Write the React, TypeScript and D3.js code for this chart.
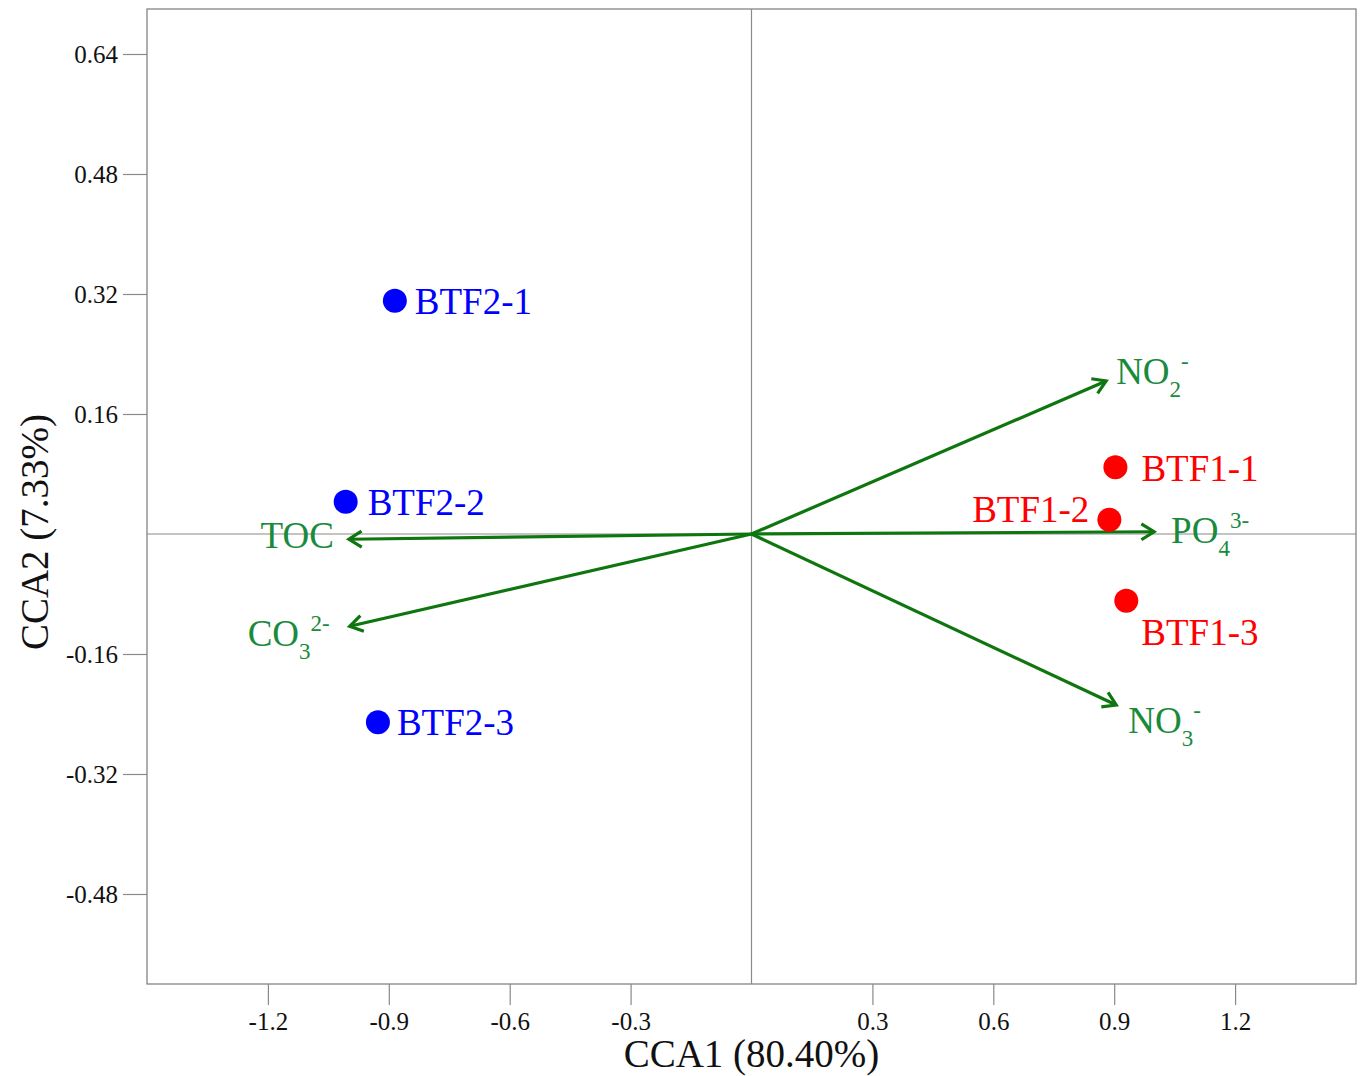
import * as d3 from "d3";
import { useEffect, useRef } from "react";

// site scores (CCA1, CCA2)
const sites = ["BTF2-1", "BTF2-2", "BTF2-3", "BTF1-1", "BTF1-2", "BTF1-3"];
const siteX = [-0.885, -1.007, -0.927, 0.903, 0.888, 0.93];
const siteY = [0.311, 0.043, -0.251, 0.089, 0.019, -0.089];
const siteGroup = ["BTF2", "BTF2", "BTF2", "BTF1", "BTF1", "BTF1"];

// environmental vectors
const envBase = ["NO", "PO", "NO", "TOC", "CO"];
const envSub = ["2", "4", "3", "", "3"];
const envSup = ["-", "3-", "-", "", "2-"];
const envX = [0.88, 0.999, 0.905, -0.999, -0.997];
const envY = [0.204, 0.003, -0.228, -0.007, -0.123];

const xTicks = [-1.2, -0.9, -0.6, -0.3, 0.3, 0.6, 0.9, 1.2];
const yTicks = [0.64, 0.48, 0.32, 0.16, -0.16, -0.32, -0.48];

const W = 1361;
const H = 1076;
const margin = { top: 9, right: 5, bottom: 92, left: 147 };

const groupColor: Record<string, string> = { BTF1: "#ff0000", BTF2: "#0000ff" };
const arrowColor = "#0f760f";
const envLabelColor = "#1a8a3c";

// label offsets in px (layout only)
const siteLabelPos: Record<string, [number, number, string]> = {
  "BTF2-1": [20, 13, "start"],
  "BTF2-2": [22, 13, "start"],
  "BTF2-3": [19, 13, "start"],
  "BTF1-1": [26, 14, "start"],
  "BTF1-2": [-20, 2, "end"],
  "BTF1-3": [15, 44, "start"],
};
const envLabelPos: [number, number, string][] = [
  [10, 3, "start"],
  [17, 11, "start"],
  [12, 28, "start"],
  [-15, 9, "end"],
  [-20, 20, "end"],
];

export default function App() {
  const svgRef = useRef<SVGSVGElement>(null);

  useEffect(() => {
    if (!svgRef.current) return;
    const svg = d3.select(svgRef.current);
    svg.selectAll("*").remove();
    const font = "'Liberation Serif', 'Times New Roman', serif";

    const x = d3.scaleLinear().domain([-1.5, 1.5]).range([margin.left, W - margin.right]);
    const y = d3.scaleLinear().domain([-0.6, 0.7]).range([H - margin.bottom, margin.top]);

    svg
      .append("rect")
      .attr("x", x(-1.5))
      .attr("y", y(0.7))
      .attr("width", x(1.5) - x(-1.5))
      .attr("height", y(-0.6) - y(0.7))
      .attr("fill", "white")
      .attr("stroke", "#7a7a7a")
      .attr("stroke-width", 1.2);

    // zero lines
    svg
      .append("line")
      .attr("x1", x(0))
      .attr("x2", x(0))
      .attr("y1", y(0.7))
      .attr("y2", y(-0.6))
      .attr("stroke", "#8a8a8a")
      .attr("stroke-width", 1.2);
    svg
      .append("line")
      .attr("x1", x(-1.5))
      .attr("x2", x(1.5))
      .attr("y1", y(0))
      .attr("y2", y(0))
      .attr("stroke", "#8a8a8a")
      .attr("stroke-width", 1.2);

    // x axis
    const xa = svg
      .append("g")
      .attr("transform", `translate(0,${H - margin.bottom})`)
      .call(
        d3
          .axisBottom(x)
          .tickValues(xTicks)
          .tickSize(21)
          .tickPadding(7)
          .tickFormat((d) => String(d))
      );
    xa.select(".domain").remove();
    xa.selectAll(".tick line").attr("stroke", "#8a8a8a").attr("stroke-width", 1.2);
    xa.selectAll(".tick text")
      .attr("font-family", font)
      .attr("font-size", 25)
      .attr("fill", "#111");

    // y axis
    const ya = svg
      .append("g")
      .attr("transform", `translate(${margin.left},0)`)
      .call(
        d3
          .axisLeft(y)
          .tickValues(yTicks)
          .tickSize(24)
          .tickPadding(5)
          .tickFormat((d) => String(d))
      );
    ya.select(".domain").remove();
    ya.selectAll(".tick line").attr("stroke", "#8a8a8a").attr("stroke-width", 1.2);
    ya.selectAll(".tick text")
      .attr("font-family", font)
      .attr("font-size", 25)
      .attr("fill", "#111");

    // axis titles
    svg
      .append("text")
      .attr("x", x(0))
      .attr("y", 1067)
      .attr("text-anchor", "middle")
      .attr("font-family", font)
      .attr("font-size", 39)
      .attr("fill", "#111")
      .text("CCA1 (80.40%)");
    svg
      .append("text")
      .attr("transform", `translate(48,${y(0) - 2}) rotate(-90)`)
      .attr("text-anchor", "middle")
      .attr("font-family", font)
      .attr("font-size", 39)
      .attr("fill", "#111")
      .text("CCA2 (7.33%)");

    // arrows
    const head = 15;
    const ang = (32 * Math.PI) / 180;
    envBase.forEach((_, i) => {
      const x0 = x(0);
      const y0 = y(0);
      const x1 = x(envX[i]);
      const y1 = y(envY[i]);
      const a = Math.atan2(y1 - y0, x1 - x0);
      const g = svg.append("g").attr("stroke", arrowColor).attr("stroke-width", 3.2).attr("fill", "none");
      g.append("line").attr("x1", x0).attr("y1", y0).attr("x2", x1).attr("y2", y1);
      const pts: [number, number][] = [
        [x1 - head * Math.cos(a - ang), y1 - head * Math.sin(a - ang)],
        [x1, y1],
        [x1 - head * Math.cos(a + ang), y1 - head * Math.sin(a + ang)],
      ];
      g.append("path").attr("d", d3.line()(pts)).attr("stroke-linejoin", "miter");

      const [dx, dy, anchor] = envLabelPos[i];
      const t = svg
        .append("text")
        .attr("x", x1 + dx)
        .attr("y", y1 + dy)
        .attr("text-anchor", anchor)
        .attr("font-family", font)
        .attr("font-size", 37)
        .attr("fill", envLabelColor);
      t.append("tspan").text(envBase[i]);
      if (envSub[i]) t.append("tspan").attr("font-size", 23).attr("dy", 13).text(envSub[i]);
      if (envSup[i]) t.append("tspan").attr("font-size", 23).attr("dy", envSub[i] ? -28 : -15).text(envSup[i]);
    });

    // sites
    sites.forEach((s, i) => {
      const cx = x(siteX[i]);
      const cy = y(siteY[i]);
      const c = groupColor[siteGroup[i]];
      svg.append("circle").attr("cx", cx).attr("cy", cy).attr("r", 12).attr("fill", c);
      const [dx, dy, anchor] = siteLabelPos[s];
      svg
        .append("text")
        .attr("x", cx + dx)
        .attr("y", cy + dy)
        .attr("text-anchor", anchor)
        .attr("font-family", font)
        .attr("font-size", 37)
        .attr("fill", c)
        .text(s);
    });
  }, []);

  return (
    <svg
      ref={svgRef}
      width={W}
      height={H}
      style={{ position: "absolute", left: 0, top: 0, background: "white" }}
    />
  );
}
